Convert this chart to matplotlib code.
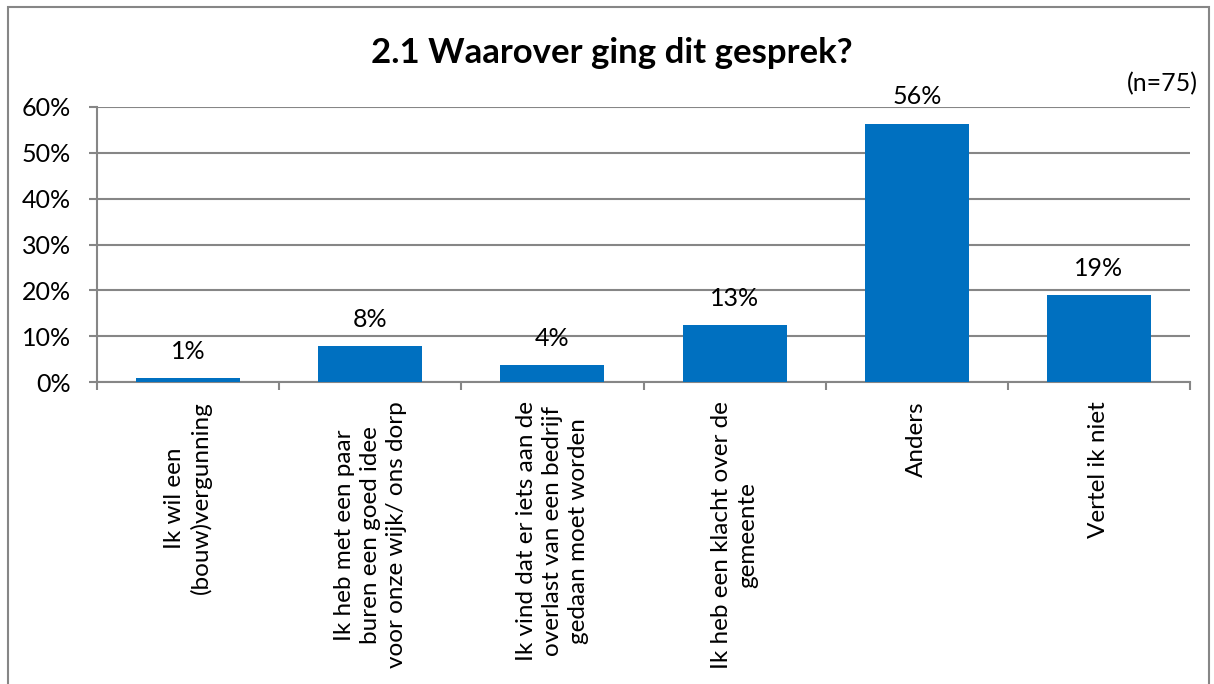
import matplotlib.pyplot as plt
import matplotlib.patches as patches
from matplotlib.ticker import FuncFormatter, MultipleLocator

categories = [
    "Ik wil een\n(bouw)vergunning",
    "Ik heb met een paar\nburen een goed idee\nvoor onze wijk/ ons dorp",
    "Ik vind dat er iets aan de\noverlast van een bedrijf\ngedaan moet worden",
    "Ik heb een klacht over de\ngemeente",
    "Anders",
    "Vertel ik niet",
]
values = [0.9, 7.8, 3.7, 12.4, 56.4, 18.9]
labels = ["1%", "8%", "4%", "13%", "56%", "19%"]

plt.rcParams['font.family'] = ['Lato', 'DejaVu Sans']

fig = plt.figure(figsize=(12.14, 6.84), dpi=100)
ax = fig.add_axes([97 / 1214, 1 - 382 / 684, (1190 - 97) / 1214, (382 - 107) / 684])

# outer chart border
fig.patches.append(patches.Rectangle((8 / 1214, -0.05), 1201 / 1214, 1.05 - 7 / 684,
                                     transform=fig.transFigure, fill=False,
                                     edgecolor='#868686', linewidth=1.5))

x = list(range(len(categories)))
bars = ax.bar(x, values, width=0.57, color='#0070C0', zorder=3)

for rect, lab in zip(bars, labels):
    ax.annotate(lab, xy=(rect.get_x() + rect.get_width() / 2, rect.get_height()),
                xytext=(0, 11), textcoords="offset points", ha='center', va='bottom',
                fontsize=18)

ax.set_xlim(-0.5, len(categories) - 0.5)
ax.set_ylim(0, 60)
ax.yaxis.set_major_locator(MultipleLocator(10))
ax.yaxis.set_major_formatter(FuncFormatter(lambda v, p: f"{v:.0f}%"))
ax.grid(axis='y', color='#868686', linewidth=1.5, zorder=0)

ax.set_xticks(x)
ax.set_xticklabels(categories, rotation=90, ha='center', va='top', multialignment='center',
                   fontsize=17.5, linespacing=1.3)
ax.set_xticks([i + 0.5 for i in range(-1, len(categories))], minor=True)
ax.tick_params(axis='x', which='major', length=0, pad=14)
ax.tick_params(axis='x', which='minor', length=6, width=1.5, color='#868686', direction='out')
ax.tick_params(axis='y', length=6, width=1.5, color='#868686', labelsize=18, pad=13)

for side in ['top', 'right']:
    ax.spines[side].set_visible(False)
for side in ['left', 'bottom']:
    ax.spines[side].set_color('#868686')
    ax.spines[side].set_linewidth(1.5)

fig.text(612 / 1214, 1 - 63 / 684, "2.1 Waarover ging dit gesprek?", ha='center', va='baseline',
         fontsize=25, fontweight='bold')
fig.text(1198 / 1214, 1 - 84 / 684, "(n=75)", ha='right', va='center', fontsize=18)

fig.savefig("out.png", dpi=100)
